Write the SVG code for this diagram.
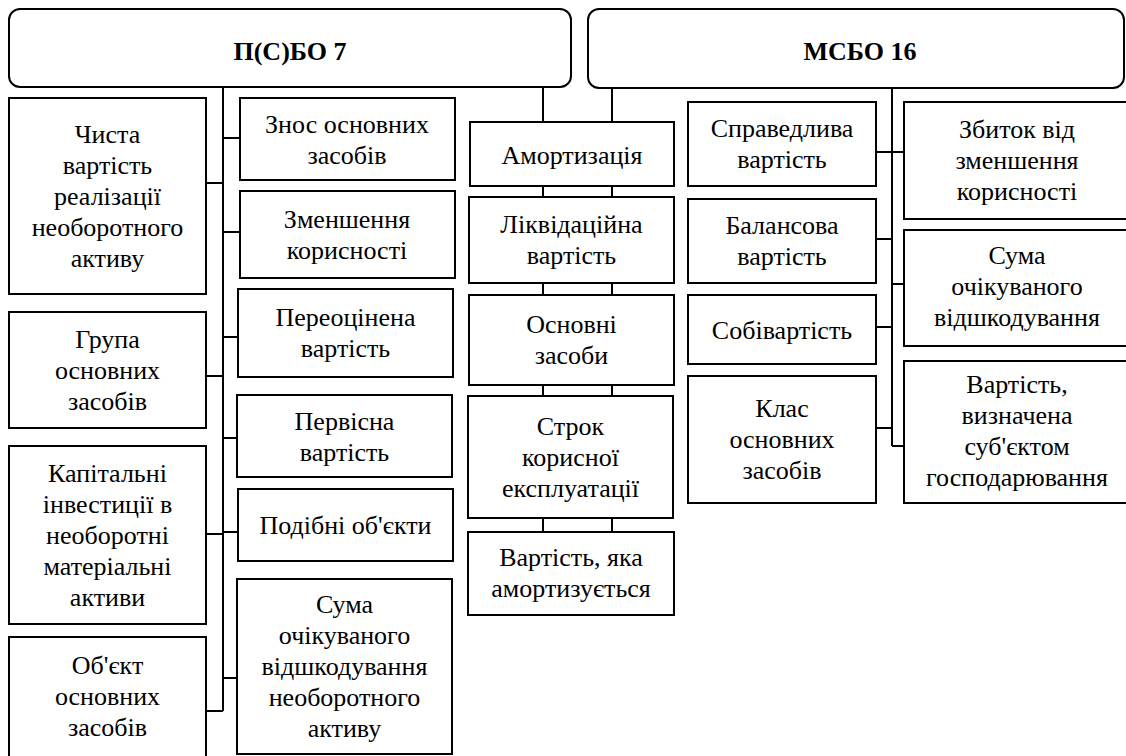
<svg xmlns="http://www.w3.org/2000/svg" width="1126" height="756" viewBox="0 0 1126 756">
<style>
.box{fill:#fff;stroke:#000;stroke-width:2}
.ttl{fill:#fff;stroke:#000;stroke-width:2}
.t{font-size:26px;fill:#000;text-anchor:middle}
.b{font-weight:bold}
.c{fill:none;stroke:#000;stroke-width:2}
</style>
<rect width="1126" height="756" fill="#fff"/>
<g id="connectors">
<path class="c" d="M223 87V711M206 183H223M206 376H223M206 534H223M206 711H223M223 138H240M223 232H240M223 337H238M223 438H237M223 532H238M223 678H237"/>
<path class="c" d="M543 87V122M612 88V122M543 186V197M612 186V197M543 283V295M612 283V295M543 385V396M612 385V396M543 518V532M612 518V532"/>
<path class="c" d="M892 88V446M876 152H904M876 239H892M876 327H892M876 428H892M892 284H904M892 446H904"/>
</g>
<g font-family="'Liberation Serif', Tinos, 'Times New Roman', 'DejaVu Serif', serif">
<g id="psbo7">
<rect class="ttl" x="9" y="9" width="562" height="78" rx="11"/>
<text class="t b" x="290" y="60">П(С)БО 7</text>
</g>
<g id="msbo16">
<rect class="ttl" x="588" y="9" width="536" height="79" rx="11"/>
<text class="t b" x="860" y="60">МСБО 16</text>
</g>
<g id="n-chysta">
<rect class="box" x="9" y="98" width="197" height="196"/>
<text class="t" x="107.5" y="143">Чиста</text>
<text class="t" x="107.5" y="174">вартість</text>
<text class="t" x="107.5" y="205">реалізації</text>
<text class="t" x="107.5" y="236">необоротного</text>
<text class="t" x="107.5" y="267">активу</text>
</g>
<g id="n-hrupa">
<rect class="box" x="9" y="312" width="197" height="116"/>
<text class="t" x="107.5" y="348">Група</text>
<text class="t" x="107.5" y="379">основних</text>
<text class="t" x="107.5" y="410">засобів</text>
</g>
<g id="n-kapital">
<rect class="box" x="9" y="446" width="197" height="178"/>
<text class="t" x="107.5" y="482">Капітальні</text>
<text class="t" x="107.5" y="513">інвестиції в</text>
<text class="t" x="107.5" y="544">необоротні</text>
<text class="t" x="107.5" y="575">матеріальні</text>
<text class="t" x="107.5" y="606">активи</text>
</g>
<g id="n-obiekt">
<rect class="box" x="9" y="637" width="197" height="125"/>
<text class="t" x="107.5" y="674">Об'єкт</text>
<text class="t" x="107.5" y="705">основних</text>
<text class="t" x="107.5" y="736">засобів</text>
</g>
<g id="n-znos">
<rect class="box" x="240" y="98" width="215" height="82"/>
<text class="t" x="347" y="133">Знос основних</text>
<text class="t" x="347" y="164">засобів</text>
</g>
<g id="n-zmenshennia">
<rect class="box" x="240" y="191" width="215" height="87"/>
<text class="t" x="347" y="228">Зменшення</text>
<text class="t" x="347" y="259">корисності</text>
</g>
<g id="n-pereotsinena">
<rect class="box" x="238" y="289" width="215" height="88"/>
<text class="t" x="345.5" y="326">Переоцінена</text>
<text class="t" x="345.5" y="357">вартість</text>
</g>
<g id="n-pervisna">
<rect class="box" x="237" y="395" width="215" height="82"/>
<text class="t" x="344.5" y="430">Первісна</text>
<text class="t" x="344.5" y="461">вартість</text>
</g>
<g id="n-podibni">
<rect class="box" x="238" y="489" width="215" height="72"/>
<text class="t" x="345.5" y="534">Подібні об'єкти</text>
</g>
<g id="n-suma-neob">
<rect class="box" x="237" y="579" width="215" height="175"/>
<text class="t" x="344.5" y="613">Сума</text>
<text class="t" x="344.5" y="644">очікуваного</text>
<text class="t" x="344.5" y="675">відшкодування</text>
<text class="t" x="344.5" y="706">необоротного</text>
<text class="t" x="344.5" y="737">активу</text>
</g>
<g id="n-amort">
<rect class="box" x="470" y="122" width="204" height="64"/>
<text class="t" x="572" y="164">Амортизація</text>
</g>
<g id="n-likvid">
<rect class="box" x="469" y="197" width="205" height="86"/>
<text class="t" x="571.5" y="233">Ліквідаційна</text>
<text class="t" x="571.5" y="264">вартість</text>
</g>
<g id="n-osnovni">
<rect class="box" x="469" y="295" width="205" height="90"/>
<text class="t" x="571.5" y="333">Основні</text>
<text class="t" x="571.5" y="364">засоби</text>
</g>
<g id="n-strok">
<rect class="box" x="468" y="396" width="205" height="122"/>
<text class="t" x="570.5" y="435">Строк</text>
<text class="t" x="570.5" y="466">корисної</text>
<text class="t" x="570.5" y="497">експлуатації</text>
</g>
<g id="n-vartist-amort">
<rect class="box" x="468" y="532" width="206" height="83"/>
<text class="t" x="571" y="566">Вартість, яка</text>
<text class="t" x="571" y="597">амортизується</text>
</g>
<g id="n-spravedlyva">
<rect class="box" x="688" y="102" width="188" height="84"/>
<text class="t" x="782" y="137">Справедлива</text>
<text class="t" x="782" y="168">вартість</text>
</g>
<g id="n-balansova">
<rect class="box" x="688" y="199" width="188" height="84"/>
<text class="t" x="782" y="234">Балансова</text>
<text class="t" x="782" y="265">вартість</text>
</g>
<g id="n-sobivartist">
<rect class="box" x="688" y="295" width="188" height="69"/>
<text class="t" x="782" y="339">Собівартість</text>
</g>
<g id="n-klas">
<rect class="box" x="688" y="376" width="188" height="127"/>
<text class="t" x="782" y="417">Клас</text>
<text class="t" x="782" y="448">основних</text>
<text class="t" x="782" y="479">засобів</text>
</g>
<g id="n-zbytok">
<rect class="box" x="904" y="102" width="230" height="117"/>
<text class="t" x="1017" y="138">Збиток від</text>
<text class="t" x="1017" y="169">зменшення</text>
<text class="t" x="1017" y="200">корисності</text>
</g>
<g id="n-suma">
<rect class="box" x="904" y="230" width="230" height="116"/>
<text class="t" x="1017" y="264">Сума</text>
<text class="t" x="1017" y="295">очікуваного</text>
<text class="t" x="1017" y="326">відшкодування</text>
</g>
<g id="n-vartist-vyznachena">
<rect class="box" x="904" y="361" width="230" height="142"/>
<text class="t" x="1017" y="393">Вартість,</text>
<text class="t" x="1017" y="424">визначена</text>
<text class="t" x="1017" y="455">суб'єктом</text>
<text class="t" x="1017" y="486">господарювання</text>
</g>
</g>
</svg>
